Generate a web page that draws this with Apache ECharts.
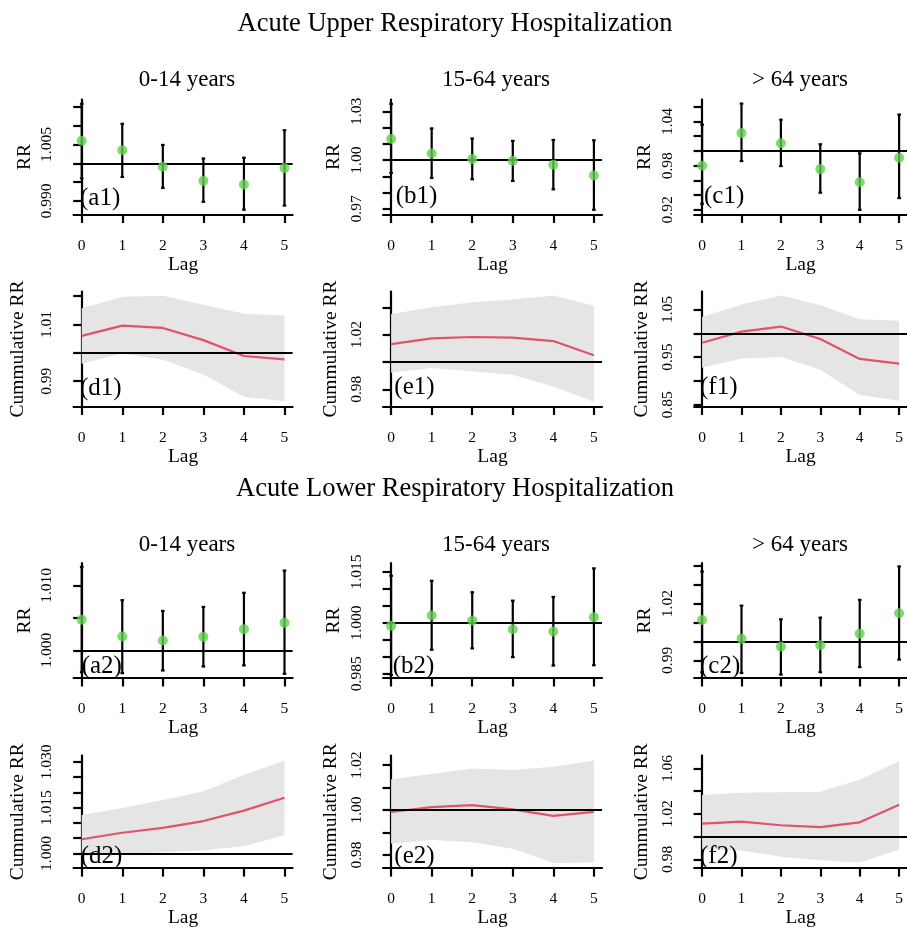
<!DOCTYPE html>
<html><head><meta charset="utf-8">
<script src="https://cdn.jsdelivr.net/npm/echarts@6/dist/echarts.min.js"></script>
<style>html,body{margin:0;padding:0;background:#fff}#c{width:907px;height:929px}</style>
</head><body><div id="c"></div>
<script>
// ---------- data ----------
const lags = [0, 1, 2, 3, 4, 5];
const lagTickLabels = ['0', '1', '2', '3', '4', '5'];
const ageGroups = ['0-14 years', '15-64 years', '> 64 years'];
const mainTitles = ['Acute Upper Respiratory Hospitalization', 'Acute Lower Respiratory Hospitalization'];

// Upper respiratory: lag-specific RR (a1-c1)
const a1Est = [1.0060, 1.0035, 0.9991, 0.9954, 0.9944, 0.99875];
const a1Lo  = [0.9960, 0.9964, 0.9935, 0.9898, 0.9877, 0.9888];
const a1Hi  = [1.0158, 1.0105, 1.0049, 1.0013, 1.0015, 1.0088];
const b1Est = [1.0130, 1.0041, 1.0006, 0.9996, 0.9971, 0.9905];
const b1Lo  = [0.9921, 0.9890, 0.9882, 0.9872, 0.9820, 0.9694];
const b1Hi  = [1.0346, 1.0195, 1.0133, 1.0118, 1.0124, 1.0122];
const c1Est = [0.9799, 1.0242, 1.0105, 0.9754, 0.9576, 0.9909];
const c1Lo  = [0.9284, 0.9863, 0.9795, 0.9434, 0.9201, 0.9361];
const c1Hi  = [1.0356, 1.0643, 1.0424, 1.0091, 0.9968, 1.0493];
// Upper respiratory: cumulative RR (d1-f1)
const d1Est = [1.0060, 1.0096, 1.0088, 1.0045, 0.9989, 0.9977];
const d1Lo  = [0.9962, 0.9998, 0.9976, 0.9924, 0.9845, 0.9829];
const d1Hi  = [1.0158, 1.0198, 1.0202, 1.0170, 1.0138, 1.0132];
const e1Est = [1.0131, 1.0173, 1.0183, 1.0178, 1.0153, 1.0049];
const e1Lo  = [0.9921, 0.9956, 0.9933, 0.9906, 0.9820, 0.9709];
const e1Hi  = [1.0351, 1.0400, 1.0437, 1.0457, 1.0486, 1.0412];
const f1Est = [0.9802, 1.0035, 1.0141, 0.9880, 0.9463, 0.9364];
const f1Lo  = [0.9279, 0.9470, 0.9505, 0.9237, 0.8707, 0.8587];
const f1Hi  = [1.0339, 1.0601, 1.0792, 1.0587, 1.0297, 1.0261];
// Lower respiratory: lag-specific RR (a2-c2)
const a2Est = [1.00472, 1.00212, 1.00150, 1.00207, 1.00326, 1.00425];
const a2Lo  = [0.99663, 0.99648, 0.99689, 0.99751, 0.99767, 0.99637];
const a2Hi  = [1.01285, 1.00772, 1.00606, 1.00668, 1.00886, 1.01228];
const b2Est = [0.99911, 1.00218, 1.00069, 0.99812, 0.99743, 1.00168];
const b2Lo  = [0.98465, 0.99208, 0.99248, 0.98990, 0.98743, 0.98752];
const b2Hi  = [1.01386, 1.01238, 1.00901, 1.00653, 1.00762, 1.01604];
const c2Est = [1.01135, 1.00144, 0.99730, 0.99802, 1.00414, 1.01495];
const c2Lo  = [0.98378, 0.98342, 0.98252, 0.98378, 0.98649, 0.99045];
const c2Hi  = [1.03694, 1.01892, 1.01171, 1.01261, 1.02198, 1.03964];
// Lower respiratory: cumulative RR (d2-f2)
const d2Est = [1.00468, 1.00681, 1.00840, 1.01064, 1.01404, 1.01830];
const d2Lo  = [0.99915, 0.99989, 1.00043, 1.00106, 1.00234, 1.00606];
const d2Hi  = [1.01266, 1.01490, 1.01755, 1.02043, 1.02574, 1.03053];
const e2Est = [0.99913, 1.00130, 1.00217, 1.00029, 0.99740, 0.99913];
const e2Lo  = [0.98498, 0.98671, 0.98570, 0.98281, 0.97646, 0.97660];
const e2Hi  = [1.01372, 1.01603, 1.01848, 1.01776, 1.01920, 1.02209];
const f2Est = [1.01143, 1.01314, 1.01000, 1.00829, 1.01257, 1.02800];
const f2Lo  = [0.98857, 0.98771, 0.98229, 0.97914, 0.97714, 0.98857];
const f2Hi  = [1.03657, 1.03857, 1.03914, 1.03943, 1.05000, 1.06657];

// y-axis ticks and labelled ticks
const a1Ticks = [0.990, 0.995, 1.000, 1.005, 1.010, 1.015]; const a1Labels = ['0.990', '1.005'];
const b1Ticks = [0.97, 0.98, 0.99, 1.00, 1.01, 1.02, 1.03]; const b1Labels = ['0.97', '1.00', '1.03'];
const c1Ticks = [0.92, 0.94, 0.96, 0.98, 1.00, 1.02, 1.04, 1.06]; const c1Labels = ['0.92', '0.98', '1.04'];
const d1Ticks = [0.99, 1.00, 1.01, 1.02]; const d1Labels = ['0.99', '1.01'];
const e1Ticks = [0.98, 1.00, 1.02, 1.04]; const e1Labels = ['0.98', '1.02'];
const f1Ticks = [0.85, 0.90, 0.95, 1.00, 1.05]; const f1Labels = ['0.85', '0.95', '1.05'];
const a2Ticks = [1.000, 1.005, 1.010]; const a2Labels = ['1.000', '1.010'];
const b2Ticks = [0.985, 0.990, 0.995, 1.000, 1.005, 1.010, 1.015]; const b2Labels = ['0.985', '1.000', '1.015'];
const c2Ticks = [0.99, 1.00, 1.01, 1.02, 1.03, 1.04]; const c2Labels = ['0.99', '1.02'];
const d2Ticks = [1.000, 1.005, 1.010, 1.015, 1.020, 1.025, 1.030]; const d2Labels = ['1.000', '1.015', '1.030'];
const e2Ticks = [0.98, 0.99, 1.00, 1.01, 1.02]; const e2Labels = ['0.98', '1.00', '1.02'];
const f2Ticks = [0.98, 1.00, 1.02, 1.04, 1.06]; const f2Labels = ['0.98', '1.02', '1.06'];

// ---------- layout ----------
const FONT = "'Liberation Serif', 'DejaVu Serif', serif";
const colLeft = [73.6, 383, 694.2];
const colW = 219;
const rowTop = [99.5, 291.5, 563, 755.5];
const rowH = 115;
const LW = 2.2;

const panels = [
  {id: 'a1', kind: 'pt',  row: 0, col: 0, est: a1Est, lo: a1Lo, hi: a1Hi, ticks: a1Ticks, labels: a1Labels, ymin: 0.98643, ymax: 1.01696, lab: [80, 198]},
  {id: 'b1', kind: 'pt',  row: 0, col: 1, est: b1Est, lo: b1Lo, hi: b1Hi, ticks: b1Ticks, labels: b1Labels, ymin: 0.9665, ymax: 1.0373, lab: [395.7, 196.7]},
  {id: 'c1', kind: 'pt',  row: 0, col: 2, est: c1Est, lo: c1Lo, hi: c1Hi, ticks: c1Ticks, labels: c1Labels, ymin: 0.9138, ymax: 1.0698, lab: [704, 196.7]},
  {id: 'd1', kind: 'cum', row: 1, col: 0, est: d1Est, lo: d1Lo, hi: d1Hi, ticks: d1Ticks, labels: d1Labels, ymin: 0.98107, ymax: 1.02167, lab: [80, 388]},
  {id: 'e1', kind: 'cum', row: 1, col: 1, est: e1Est, lo: e1Lo, hi: e1Hi, ticks: e1Ticks, labels: e1Labels, ymin: 0.9674, ymax: 1.0516, lab: [394.3, 387]},
  {id: 'f1', kind: 'cum', row: 1, col: 2, est: f1Est, lo: f1Lo, hi: f1Hi, ticks: f1Ticks, labels: f1Labels, ymin: 0.8466, ymax: 1.0876, lab: [700, 387]},
  {id: 'a2', kind: 'pt',  row: 2, col: 0, est: a2Est, lo: a2Lo, hi: a2Hi, ticks: a2Ticks, labels: a2Labels, ymin: 0.99573, ymax: 1.01345, lab: [81.7, 666]},
  {id: 'b2', kind: 'pt',  row: 2, col: 1, est: b2Est, lo: b2Lo, hi: b2Hi, ticks: b2Ticks, labels: b2Labels, ymin: 0.98376, ymax: 1.01762, lab: [392.7, 666]},
  {id: 'c2', kind: 'pt',  row: 2, col: 2, est: c2Est, lo: c2Lo, hi: c2Hi, ticks: c2Ticks, labels: c2Labels, ymin: 0.98072, ymax: 1.04144, lab: [700, 666]},
  {id: 'd2', kind: 'cum', row: 3, col: 0, est: d2Est, lo: d2Lo, hi: d2Hi, ticks: d2Ticks, labels: d2Labels, ymin: 0.99521, ymax: 1.03213, lab: [80.7, 856.7]},
  {id: 'e2', kind: 'cum', row: 3, col: 1, est: e2Est, lo: e2Lo, hi: e2Hi, ticks: e2Ticks, labels: e2Labels, ymin: 0.97415, ymax: 1.02426, lab: [394.3, 856.7]},
  {id: 'f2', kind: 'cum', row: 3, col: 2, est: f2Est, lo: f2Lo, hi: f2Hi, ticks: f2Ticks, labels: f2Labels, ymin: 0.97229, ymax: 1.07143, lab: [700, 856.7]}
];

const grid = [], xAxis = [], yAxis = [], series = [], graphic = [];

panels.forEach((p, i) => {
  grid.push({left: colLeft[p.col], top: rowTop[p.row], width: colW, height: rowH, containLabel: false});
  xAxis.push({
    gridIndex: i, type: 'value', min: -0.2, max: 5.2,
    name: 'Lag', nameLocation: 'middle', nameGap: 39,
    nameTextStyle: {fontFamily: FONT, fontSize: 19.5, color: '#000'},
    axisLine: {show: true, onZero: false, lineStyle: {color: '#000', width: LW}},
    axisTick: {show: true, length: 8.5, customValues: lags, lineStyle: {color: '#000', width: LW}},
    axisLabel: {show: true, customValues: lags, margin: 23, fontFamily: FONT, fontSize: 15.5, color: '#000',
      formatter: v => lagTickLabels[lags.indexOf(Math.round(v))]},
    splitLine: {show: false}
  });
  const dec = p.labels[0].split('.')[1].length;
  yAxis.push({
    gridIndex: i, type: 'value', min: p.ymin, max: p.ymax,
    name: p.kind === 'pt' ? 'RR' : 'Cummulative RR', nameLocation: 'middle', nameRotate: 90,
    nameGap: p.kind === 'pt' ? 39 : (p.col === 0 ? 46 : 42),
    nameTextStyle: {fontFamily: FONT, fontSize: 19.5, color: '#000'},
    axisLine: {show: true, lineStyle: {color: '#000', width: LW}},
    axisTick: {show: true, length: 8.5, customValues: p.ticks, lineStyle: {color: '#000', width: LW}},
    axisLabel: {show: true, customValues: p.labels.map(Number), rotate: 90, margin: 18.5,
      fontFamily: FONT, fontSize: 15.5, color: '#000', formatter: v => v.toFixed(dec)},
    splitLine: {show: false}
  });
  const refLine = {silent: true, symbol: ['none', 'none'], label: {show: false},
    lineStyle: {color: '#000', width: LW, type: 'solid'}, data: [{yAxis: 1}], animation: false};
  if (p.kind === 'pt') {
    series.push({
      type: 'custom', xAxisIndex: i, yAxisIndex: i, z: 3,
      data: lags.map((l, k) => [l, p.lo[k], p.hi[k]]),
      encode: {x: 0, y: [1, 2]},
      renderItem: (params, api) => {
        const a = api.coord([api.value(0), api.value(1)]);
        const b = api.coord([api.value(0), api.value(2)]);
        const st = {stroke: '#000', lineWidth: LW};
        return {type: 'group', children: [
          {type: 'line', shape: {x1: a[0], y1: a[1], x2: b[0], y2: b[1]}, style: st},
          {type: 'line', shape: {x1: a[0] - 1.8, y1: a[1], x2: a[0] + 1.8, y2: a[1]}, style: st},
          {type: 'line', shape: {x1: b[0] - 1.8, y1: b[1], x2: b[0] + 1.8, y2: b[1]}, style: st}
        ]};
      }
    });
    series.push({
      type: 'scatter', xAxisIndex: i, yAxisIndex: i, z: 10,
      symbol: 'circle', symbolSize: 10, itemStyle: {color: '#61D04F'},
      data: lags.map((l, k) => [l, p.est[k]]),
      markLine: refLine
    });
  } else {
    const lo = p.lo, hi = p.hi;
    series.push({
      type: 'custom', xAxisIndex: i, yAxisIndex: i, z: 1,
      data: lags.map((l, k) => [l, lo[k], hi[k]]),
      encode: {x: 0, y: [1, 2]},
      renderItem: (params, api) => {
        if (params.dataIndex !== 0) return null;
        const pts = [];
        lags.forEach((l, k) => pts.push(api.coord([l, hi[k]])));
        for (let k = lags.length - 1; k >= 0; k--) pts.push(api.coord([lags[k], lo[k]]));
        return {type: 'polygon', shape: {points: pts}, style: {fill: '#E5E5E5', stroke: null}};
      }
    });
    series.push({
      type: 'line', xAxisIndex: i, yAxisIndex: i, z: 4,
      symbol: 'none', lineStyle: {color: '#DF536B', width: LW},
      data: lags.map((l, k) => [l, p.est[k]]),
      markLine: refLine
    });
  }
  graphic.push({type: 'text', x: p.lab[0], y: p.lab[1], z: 20,
    style: {text: '(' + p.id + ')', font: '25px ' + FONT, fill: '#000', textAlign: 'left', textVerticalAlign: 'middle'}});
});

// titles
[[455, 24], [455, 489]].forEach((pos, k) => {
  graphic.push({type: 'text', x: pos[0], y: pos[1],
    style: {text: mainTitles[k], font: '26.5px ' + FONT, fill: '#000', textAlign: 'center', textVerticalAlign: 'middle'}});
});
const subX = [187, 496, 800];
[80, 545].forEach(y => {
  ageGroups.forEach((g, c) => {
    graphic.push({type: 'text', x: subX[c], y: y,
      style: {text: g, font: '23px ' + FONT, fill: '#000', textAlign: 'center', textVerticalAlign: 'middle'}});
  });
});

const chart = echarts.init(document.getElementById('c'), null, {renderer: 'canvas'});
chart.setOption({
  backgroundColor: '#fff', animation: false,
  grid, xAxis, yAxis, series, graphic
});
</script></body></html>
